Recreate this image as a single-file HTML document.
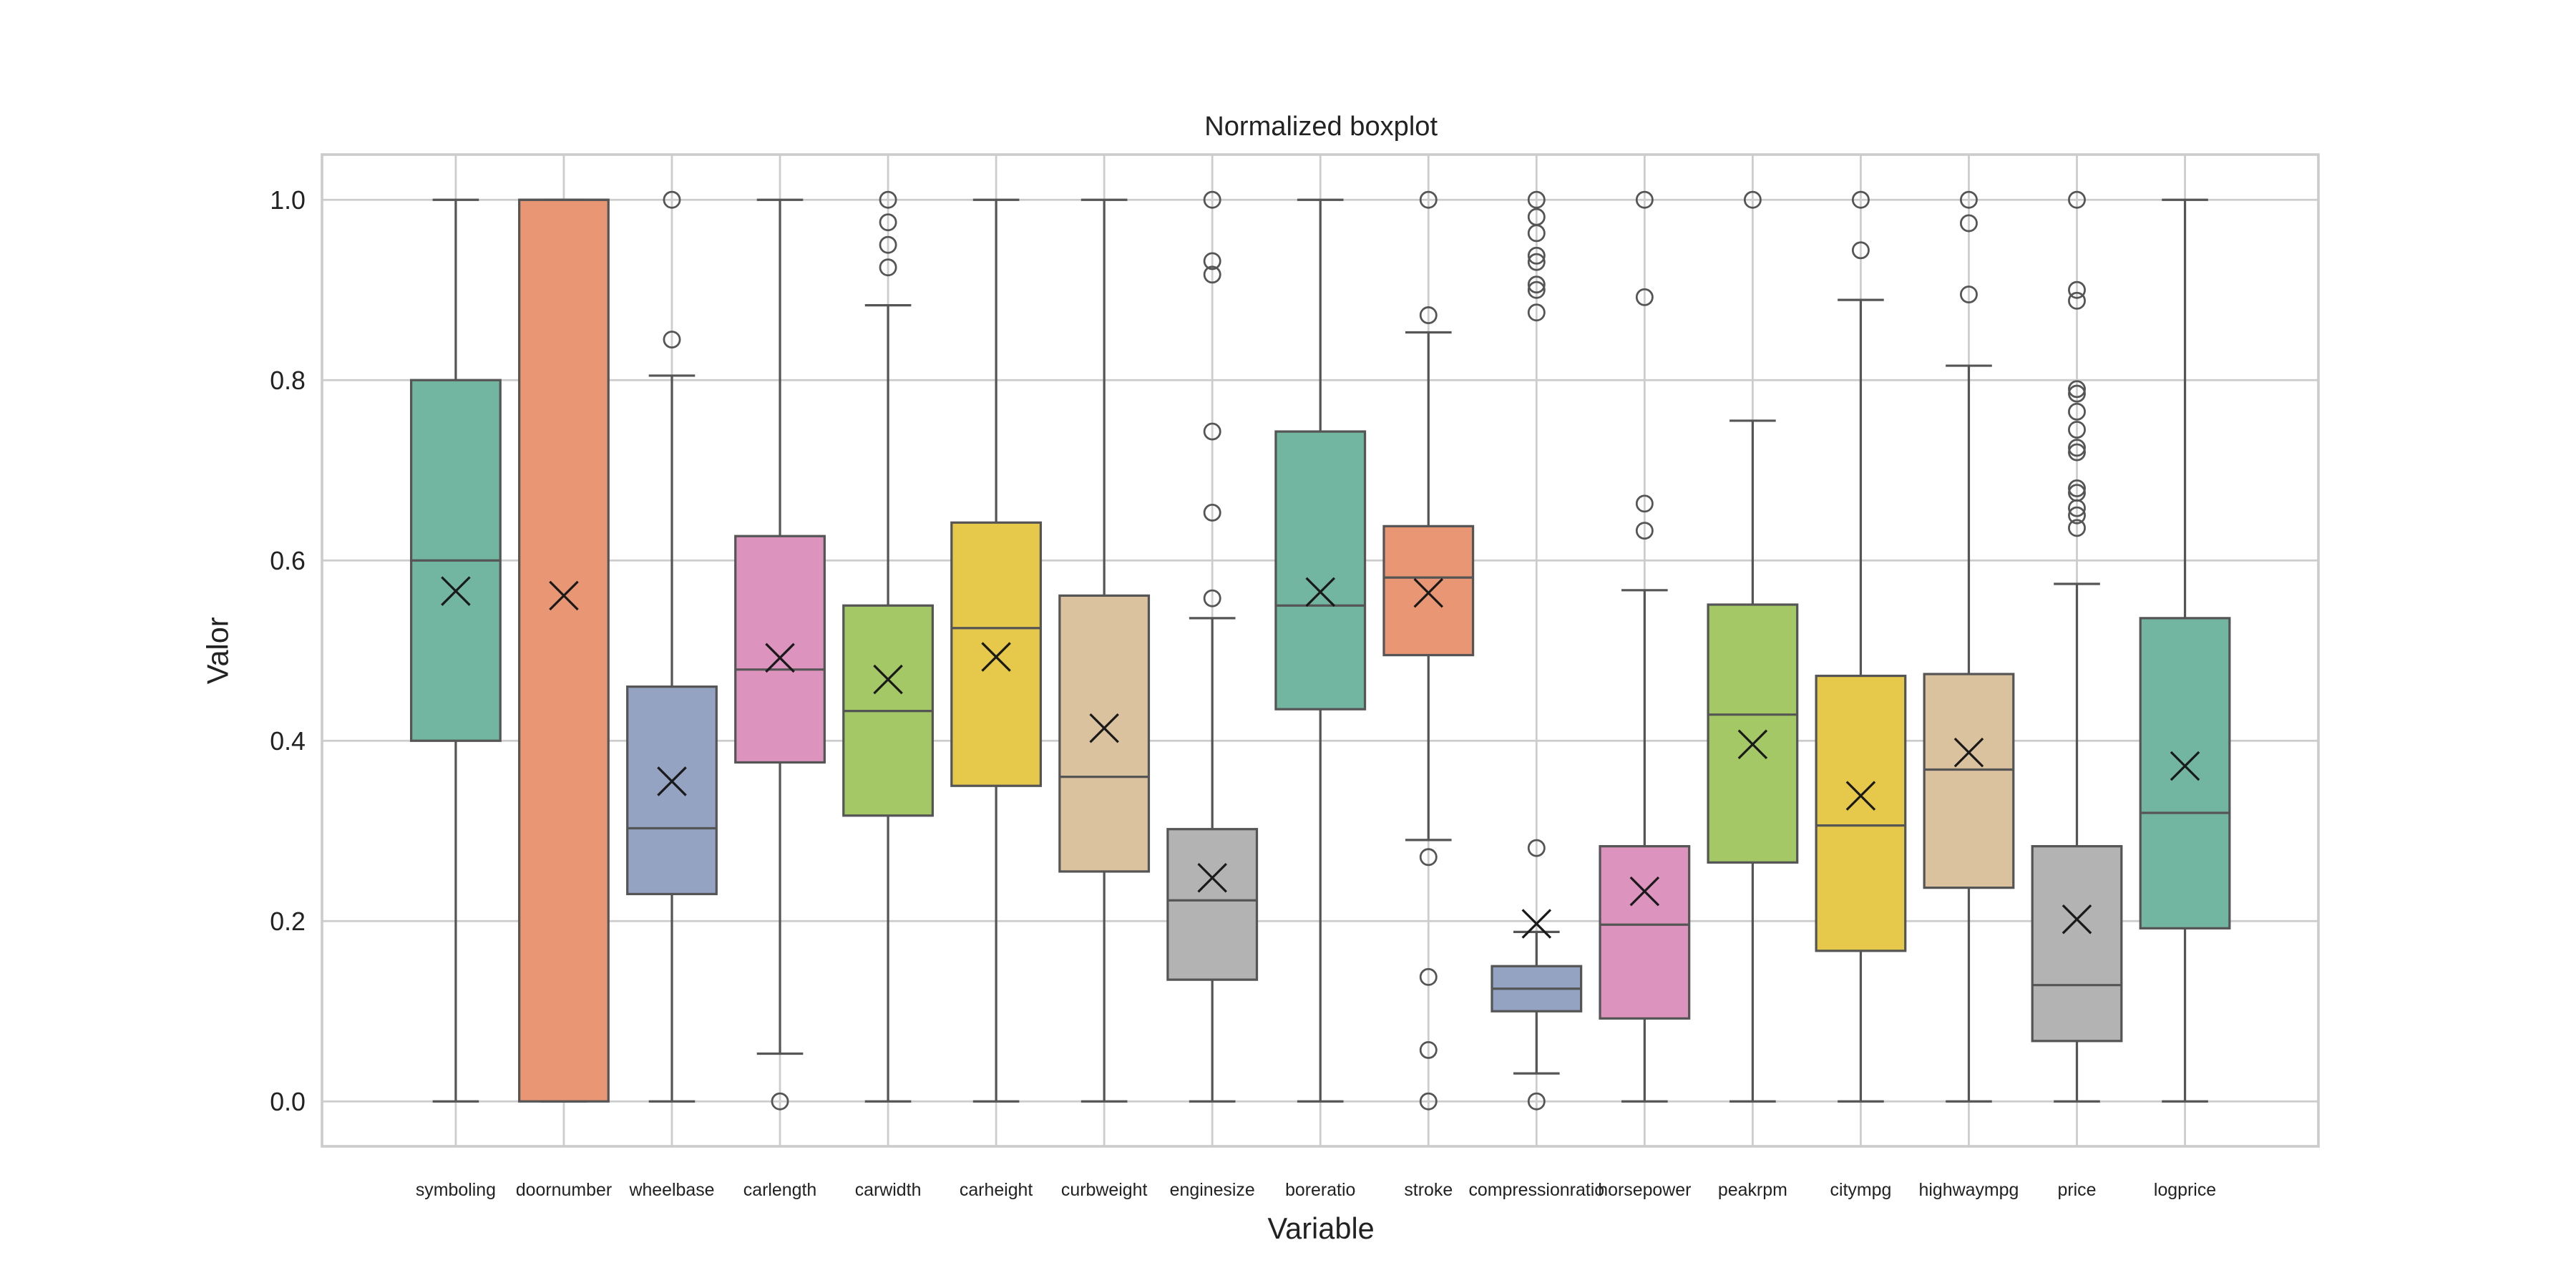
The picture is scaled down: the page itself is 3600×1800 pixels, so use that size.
<!DOCTYPE html>
<html><head><meta charset="utf-8"><style>
html,body{margin:0;padding:0;background:#fff;}
svg{display:block;font-family:"Liberation Sans",Arial,sans-serif;}
</style></head><body>
<svg id="chart" width="3600" height="1800" viewBox="0 0 1560 780" xmlns="http://www.w3.org/2000/svg">
<rect width="1560" height="780" fill="#fff"/>
<g id="grid"></g>
<g id="boxes"></g>
<rect x="195" y="93.6" width="1209" height="600.6" fill="none" stroke="#cccccc" stroke-width="1.6"/>
<text x="800" y="82" text-anchor="middle" font-size="16.5" fill="#222">Normalized boxplot</text>
<text transform="translate(138,394) rotate(-90)" text-anchor="middle" font-size="18" fill="#222">Valor</text>
<text x="800" y="750" text-anchor="middle" font-size="18" fill="#222">Variable</text>
<g id="labels"></g>
</svg>
<script>
const categories=["symboling","doornumber","wheelbase","carlength","carwidth","carheight","curbweight","enginesize","boreratio","stroke","compressionratio","horsepower","peakrpm","citympg","highwaympg","price","logprice"];
const q1=[0.4,0,0.23,0.376,0.317,0.35,0.255,0.135,0.435,0.495,0.1,0.092,0.265,0.167,0.237,0.067,0.192];
const medians=[0.6,1,0.303,0.479,0.433,0.525,0.36,0.223,0.55,0.581,0.125,0.196,0.429,0.306,0.368,0.129,0.32];
const q3=[0.8,1,0.46,0.627,0.55,0.642,0.561,0.302,0.743,0.638,0.15,0.283,0.551,0.472,0.474,0.283,0.536];
const whiskerLow=[0,0,0,0.053,0,0,0,0,0,0.29,0.031,0,0,0,0,0,0];
const whiskerHigh=[1,1,0.805,1,0.883,1,1,0.536,1,0.853,0.188,0.567,0.755,0.889,0.816,0.574,1];
const means=[0.566,0.561,0.355,0.492,0.468,0.493,0.414,0.248,0.565,0.564,0.197,0.233,0.396,0.339,0.387,0.202,0.372];
const outliers=[[],[],[1.0,0.845],[0],[1,0.975,0.95,0.925],[],[],[0.558,0.653,0.743,0.917,0.932,1.0],[],[0.271,0.138,0.057,0,0.872,1.0],[0,0.281,0.875,0.9,0.906,0.931,0.938,0.963,0.981,1.0],[0.633,0.663,0.892,1.0],[1.0],[0.944,1.0],[0.895,0.974,1.0],[0.636,0.65,0.658,0.675,0.68,0.72,0.725,0.745,0.765,0.785,0.79,0.888,0.9,1.0],[]];
const yTicks=["0.0","0.2","0.4","0.6","0.8","1.0"];
const colors=["#72b6a1","#e99675","#95a3c3","#dc93be","#a3c865","#e6c94a","#dbc29e","#b3b3b3"];
const NS="http://www.w3.org/2000/svg";
const y=v=>667-v*546;
const x=i=>276+i*65.45;
function mk(tag,attrs,parent){const e=document.createElementNS(NS,tag);for(const k in attrs)e.setAttribute(k,attrs[k]);parent.appendChild(e);return e;}
const grid=document.getElementById('grid'),boxes=document.getElementById('boxes'),labels=document.getElementById('labels');
yTicks.forEach(t=>{const v=parseFloat(t);
 const l=mk('line',{x1:195,x2:1404,y1:y(v),y2:y(v),stroke:'#cccccc','stroke-width':1.2},grid);
 
 
 const tx=mk('text',{x:185,y:y(v)+5.5,'text-anchor':'end','font-size':15.5,fill:'#222'},labels);tx.textContent=t;
 
 
});
categories.forEach((c,i)=>{
 const l=mk('line',{x1:x(i),x2:x(i),y1:93.6,y2:694.2,stroke:'#cccccc','stroke-width':1.2},grid);
 
 
 const tx=mk('text',{x:x(i),y:724,'text-anchor':'middle','font-size':10.8,fill:'#222'},labels);tx.textContent=c;
 
 
 const g=mk('g',{},boxes);
 
 
 const st={stroke:'#555','stroke-width':1.4};
 mk('line',Object.assign({x1:x(i),x2:x(i),y1:y(q3[i]),y2:y(whiskerHigh[i])},st),g);
 mk('line',Object.assign({x1:x(i),x2:x(i),y1:y(q1[i]),y2:y(whiskerLow[i])},st),g);
 mk('line',Object.assign({x1:x(i)-14,x2:x(i)+14,y1:y(whiskerHigh[i]),y2:y(whiskerHigh[i])},st),g);
 mk('line',Object.assign({x1:x(i)-14,x2:x(i)+14,y1:y(whiskerLow[i]),y2:y(whiskerLow[i])},st),g);
 mk('rect',{x:x(i)-27,y:y(q3[i]),width:54,height:y(q1[i])-y(q3[i]),fill:colors[i%8],stroke:'#555','stroke-width':1.4},g);
 mk('line',Object.assign({x1:x(i)-27,x2:x(i)+27,y1:y(medians[i]),y2:y(medians[i])},st),g);
 outliers[i].forEach(o=>{mk('circle',{cx:x(i),cy:y(o),r:4.8,fill:'none',stroke:'#555','stroke-width':1.2},g);});
 const m=y(means[i]),d=8.5;
 mk('path',{d:`M${x(i)-d},${m-d}L${x(i)+d},${m+d}M${x(i)-d},${m+d}L${x(i)+d},${m-d}`,stroke:'#1a1a1a','stroke-width':1.4,fill:'none'},g);
});
</script>
</body></html>
